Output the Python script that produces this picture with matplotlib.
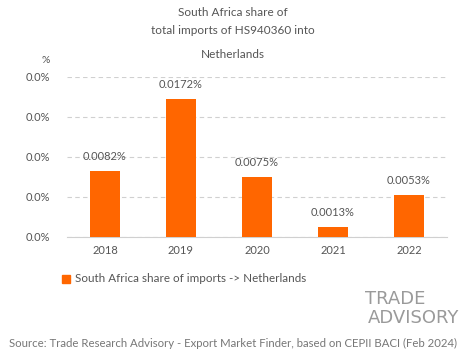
import matplotlib
matplotlib.use("Agg")
import matplotlib.pyplot as plt
from matplotlib.patches import Rectangle

years = ["2018", "2019", "2020", "2021", "2022"]
share = [0.0082, 0.0172, 0.0075, 0.0013, 0.0053]
yticks = [0.0, 0.005, 0.01, 0.015, 0.02]

orange = "#ff6600"
grey = "#555555"
plt.rcParams['font.family'] = ['Lato', 'DejaVu Sans']

fig = plt.figure(figsize=(4.65, 3.59), dpi=100)
ax = fig.add_axes([0.144, 0.34, 0.817, 0.446])

x = range(len(years))
ax.bar(x, share, width=0.4, color=orange, zorder=3)
for i, v in zip(x, share):
    ax.text(i, v + 0.0011, "%.4f%%" % v, ha='center', va='bottom', fontsize=8, color=grey)

ax.set_xlim(-0.5, len(years) - 0.5)
ax.set_ylim(0, 0.02)
ax.set_xticks(list(x))
ax.set_xticklabels(years, fontsize=8, color=grey)
ax.set_yticks(yticks)
ax.set_yticklabels(["0.0%"] * len(yticks), fontsize=8, color=grey)
ax.tick_params(length=0, pad=12)
ax.tick_params(axis='x', pad=6)
ax.grid(axis='y', ls=(0, (4, 3)), color='#d0d0d0', lw=0.8, zorder=0)
for s in ['top', 'right', 'left']:
    ax.spines[s].set_visible(False)
ax.spines['bottom'].set_color('#d0d0d0')

fig.text(0.5, 0.966, "South Africa share of", ha='center', va='center', fontsize=8.5, color=grey)
fig.text(0.5, 0.914, "total imports of HS940360 into", ha='center', va='center', fontsize=8.5, color=grey)
fig.text(0.5, 0.847, "Netherlands", ha='center', va='center', fontsize=8.5, color=grey)
fig.text(0.099, 0.832, "%", ha='center', va='center', fontsize=7.5, color=grey)

# legend
fig.patches.append(Rectangle((62 / 465, 1 - 283 / 359), 8 / 465, 8 / 359,
                             transform=fig.transFigure, color=orange))
fig.text(75 / 465, 1 - 279 / 359, "South Africa share of imports -> Netherlands",
         ha='left', va='center', fontsize=8.4, color=grey)

# logo
fig.text(365 / 465, 1 - 299 / 359, "TRADE", ha='left', va='center', fontsize=13,
         color='#9a9a9a', family='DejaVu Sans')
fig.text(368 / 465, 1 - 318 / 359, "ADVISORY", ha='left', va='center', fontsize=13,
         color='#9a9a9a', family='DejaVu Sans')

fig.text(0.5, 1 - 343 / 359, "Source: Trade Research Advisory - Export Market Finder, based on CEPII BACI (Feb 2024)",
         ha='center', va='center', fontsize=8.2, color='#777777')

fig.savefig("out.png", dpi=100, facecolor='white')
